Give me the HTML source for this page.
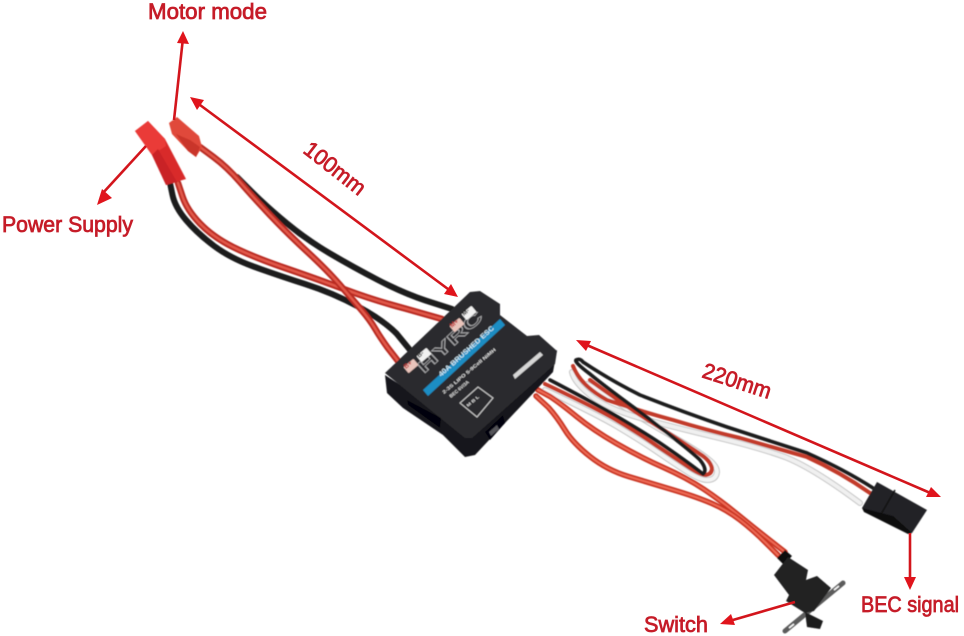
<!DOCTYPE html>
<html><head><meta charset="utf-8"><style>
html,body{margin:0;padding:0;background:#fff;width:964px;height:636px;overflow:hidden}
svg{display:block}
.l{font-family:"Liberation Sans",sans-serif;font-weight:400;fill:#c61c28;font-size:22px;stroke:#c61c28;stroke-width:.75}
.w{fill:none;stroke-linecap:round;stroke-linejoin:round}
.a{stroke:#d3151c;stroke-width:2.6;fill:none}
.h{fill:#e0141c}
.t{font-family:"Liberation Sans",sans-serif;font-weight:700}
</style></head><body>
<svg width="964" height="636" viewBox="0 0 964 636" xmlns="http://www.w3.org/2000/svg">
<defs><filter id="b" x="-5%" y="-5%" width="110%" height="110%"><feGaussianBlur stdDeviation=".5"/></filter></defs>
<g filter="url(#b)">
<!-- power black -->
<path class="w" stroke="#1b1b1d" stroke-width="6" d="M170 183 L172.5 195 Q175 207 186 220 Q197 233 213.5 245.5 Q230 258 253.5 266.5 Q277 275 305 284 Q333 293 358 306.5 Q383 320 396.5 333.5 L410 350"/>
<!-- motor black -->
<path class="w" stroke="#1b1b1d" stroke-width="6" d="M237 177 L252 192 Q267 207 287 223.5 Q307 240 330 253.5 Q353 267 378 280 Q403 293 425.5 300.5 L452 309"/>
<!-- power red -->
<path class="w" stroke="#b92a22" stroke-width="6.5" d="M178 183 L182.5 196.5 Q187 210 200 223.5 Q213 237 233 247 Q253 257 286.5 268.5 Q320 280 346.5 290 Q373 300 405 308.5 L442 319"/>
<path class="w" stroke="#e2594a" stroke-width="2.4" d="M178 183 L182.5 196.5 Q187 210 200 223.5 Q213 237 233 247 Q253 257 286.5 268.5 Q320 280 346.5 290 Q373 300 405 308.5 L442 319"/>
<!-- motor red -->
<path class="w" stroke="#b92a22" stroke-width="6.5" d="M200 147 L213.5 157 Q227 167 240 182 Q253 197 270 215 Q287 233 307 251.5 Q327 270 340 285 Q353 300 361.5 310 Q370 320 375 328.5 Q380 337 387.5 347.5 L398 361"/>
<path class="w" stroke="#e2594a" stroke-width="2.4" d="M200 147 L213.5 157 Q227 167 240 182 Q253 197 270 215 Q287 233 307 251.5 Q327 270 340 285 Q353 300 361.5 310 Q370 320 375 328.5 Q380 337 387.5 347.5 L398 361"/>
<!-- connectors -->
<polygon points="135,131 148,121 165,139 186,179 166,185 152,155" fill="#d92b2b"/>
<polygon points="135,131 148,121 165,139 166,146 152,155" fill="#ea3b38"/>
<polygon points="152,155 158,149 177,182 166,185" fill="#c92226"/>
<polygon points="169,123 177,117 199,136 202,147 196,157 188,151 172,134" fill="#e04a3a"/>
<polygon points="176,134 188,151 196,157 200,147 190,140" fill="#c9342a"/>
<!-- servo lead -->
<path class="w" stroke="#c4c4c4" stroke-width="6" d="M545 390 Q596 414 618 427 Q640 440 657.500 452 Q675 464 687.500 472 Q700 480 707 480 Q716 480 717 472 Q717 466 708 459 Q700 452 670 435 Q640 418 621.500 405 Q603 392 587 384"/>
<path class="w" stroke="#f4f4f4" stroke-width="4" d="M545 390 Q596 414 618 427 Q640 440 657.500 452 Q675 464 687.500 472 Q700 480 707 480 Q716 480 717 472 Q717 466 708 459 Q700 452 670 435 Q640 418 621.500 405 Q603 392 587 384"/>
<path class="w" stroke="#c4c4c4" stroke-width="6" d="M572 372 Q574 382 590 395 Q605 408 640 418 Q673 427 715 437 Q757 447 785 457 Q813 468 860 503"/>
<path class="w" stroke="#f0f0f0" stroke-width="4" d="M572 372 Q574 382 590 395 Q605 408 640 418 Q673 427 715 437 Q757 447 785 457 Q813 468 860 503"/>
<path class="w" stroke="#c23a2a" stroke-width="4" d="M545 384 Q596 408 618 421 Q640 434 657 446 Q675 458 687 466 Q700 475 706 475 Q712 474 712 468 Q710 460 700 454 Q690 447 640 415 Q603 390 590 380"/>
<path class="w" stroke="#c23a2a" stroke-width="4" d="M573 366 Q580 385 607 400 Q640 411 673 420 Q706 430 740 438 Q775 448 807 457 Q840 472 870 493"/>
<path class="w" stroke="#1c1c1e" stroke-width="3.600" d="M550 380 Q596 404 618 417 Q640 430 660 443 Q685 460 703 474 Q708 470 700 460 Q690 450 640 412 Q603 385 590 374 Q574 362 576 360 Q580 358 583 362 Q610 380 640 395 Q683 412 727 427 Q767 440 807 453 Q845 470 873 488"/>
<!-- switch wires -->
<path class="w" stroke="#c93424" stroke-width="5.500" d="M538 390 L550 396.500 Q560 403 576.500 416.500 Q593 430 616.500 443.500 Q640 457 663.500 467.500 Q687 478 703.500 489 Q720 500 736.500 513.500 Q753 527 769 539.500 L785 552"/>
<path class="w" stroke="#ee6a55" stroke-width="2" d="M538 390 L550 396.500 Q560 403 576.500 416.500 Q593 430 616.500 443.500 Q640 457 663.500 467.500 Q687 478 703.500 489 Q720 500 736.500 513.500 Q753 527 769 539.500 L785 552"/>
<path class="w" stroke="#c93424" stroke-width="5.500" d="M536 396 L548.500 407.500 Q557 417 565 430 Q573 443 590 456.500 Q607 470 628.500 476.500 Q650 483 673.500 490 Q697 497 712 503.500 Q727 510 740 520 Q753 530 765.500 542.500 L778 555"/>
<path class="w" stroke="#ee6a55" stroke-width="2" d="M536 396 L548.500 407.500 Q557 417 565 430 Q573 443 590 456.500 Q607 470 628.500 476.500 Q650 483 673.500 490 Q697 497 712 503.500 Q727 510 740 520 Q753 530 765.500 542.500 L778 555"/>
<!-- ESC -->
<polygon points="385,375 387,393 403,408 443,435 465,457 475,455 553,372 557,350 470,430" fill="#19191b"/>
<polygon points="385,373 470,292 480,291 500,304 500,315 527,336 539,335 557,351 555,364 472,438 465,438" fill="#2c2c2f"/>
<polygon points="407,400 441,418 440,428 408,405" fill="#060608"/>
<polygon points="485,432 503,415 505,423 490,440" fill="#060608"/>
<polygon points="489,432 497,425 499,429 491,436" fill="#55555a"/>
<polygon points="423,390 500,319 505,325 428,396" fill="#1f8dc3"/>
<text class="t" transform="translate(441,377) rotate(-42)" font-size="7" fill="#cfe6f2" textLength="72" lengthAdjust="spacingAndGlyphs">40A BRUSHED ESC</text>
<text class="t" transform="translate(424,374) rotate(-43)" font-size="17" fill="none" stroke="#a5a5a7" stroke-width=".8" textLength="82" lengthAdjust="spacingAndGlyphs">HYRC</text>
<text class="t" transform="translate(444,394) rotate(-40)" font-size="4.600" fill="#ddd" textLength="68" lengthAdjust="spacingAndGlyphs">2-3S LIPO 5-9Cell NiMH</text>
<text class="t" transform="translate(451,398) rotate(-40)" font-size="4.600" fill="#ddd" textLength="24" lengthAdjust="spacingAndGlyphs">BEC 6V/3A</text>
<polygon points="460,403 478,387 493,398 477,417" fill="none" stroke="#cfcfcf" stroke-width="1"/>
<text class="t" transform="translate(468,407) rotate(-40)" font-size="4" fill="#ddd" textLength="15" lengthAdjust="spacingAndGlyphs">M B L</text>
<polygon points="513,375 540,352 543,355 515,379" fill="#d6d6d6"/>
<rect x="-6.500" y="-4" width="13" height="8" rx="1" transform="translate(411,366) rotate(-40)" fill="#e9c4bb"/>
<rect x="-6.500" y="-4" width="13" height="8" rx="1" transform="translate(424,355) rotate(-40)" fill="#f1f1f1"/>
<rect x="-6.500" y="-4" width="13" height="8" rx="1" transform="translate(457,325) rotate(-40)" fill="#e9c4bb"/>
<rect x="-6.500" y="-4" width="13" height="8" rx="1" transform="translate(469,313) rotate(-40)" fill="#f1f1f1"/>
<text class="t" transform="translate(406,369) rotate(-40)" font-size="6.500" fill="#b33">B+</text>
<text class="t" transform="translate(419,358) rotate(-40)" font-size="6.500" fill="#222">B-</text>
<text class="t" transform="translate(452,328) rotate(-40)" font-size="6.500" fill="#b33">M+</text>
<text class="t" transform="translate(464,316) rotate(-40)" font-size="6.500" fill="#222">M-</text>
<!-- BEC connector -->
<polygon points="862,508 877,482 927,510 912,533" fill="#232325"/>
<polygon points="862,508 864,512 908,534 912,533 893,516" fill="#111"/>
<line x1="895" y1="490" x2="880" y2="516" stroke="#111" stroke-width="1.500"/>
<!-- switch -->
<polygon points="777,558 785,550 792,556 784,565" fill="#111"/>
<path d="M785 631 L843 583" stroke="#5c5c5c" stroke-width="5" stroke-linecap="round"/>
<path d="M789 628 L794 624 M839 586 L834 590" stroke="#fff" stroke-width="1.500"/>
<polygon points="774,575 788,557 808,570 806,580 817,576 831,588 814,611 805,613 786,601 789,595" fill="#222224"/>
<polygon points="805,612 823,621 820,629 807,627" fill="#1c1c1e"/>
</g>
<!-- arrows -->
<g>
<line class="a" x1="174" y1="120" x2="183" y2="38"/><polygon class="h" points="183,31 189,44 177,43"/>
<line class="a" x1="196" y1="102" x2="452" y2="292"/><polygon class="h" points="190,97 204,100 197,110"/><polygon class="h" points="458,297 444,294 451,284"/>
<line class="a" x1="146" y1="146" x2="102" y2="194"/><polygon class="h" points="97,205 102,189 112,198"/>
<line class="a" x1="582" y1="343" x2="935" y2="495"/><polygon class="h" points="576,340 591,341 586,351"/><polygon class="h" points="941,497 926,497 931,487"/>
<line class="a" x1="910" y1="533" x2="910" y2="582"/><polygon class="h" points="910,590 904,577 916,577"/>
<line class="a" x1="795" y1="602" x2="726" y2="622"/><polygon class="h" points="720,624 731,614 735,625"/>
</g>
<text class="l" x="148" y="19" textLength="119" lengthAdjust="spacingAndGlyphs">Motor mode</text>
<text class="l" x="2" y="232" textLength="131" lengthAdjust="spacingAndGlyphs">Power Supply</text>
<text class="l" transform="translate(302,152) rotate(38)" textLength="72" lengthAdjust="spacingAndGlyphs">100mm</text>
<text class="l" transform="translate(701,377) rotate(18)" textLength="71" lengthAdjust="spacingAndGlyphs">220mm</text>
<text class="l" x="644" y="632" textLength="64" lengthAdjust="spacingAndGlyphs">Switch</text>
<text class="l" x="861" y="612" textLength="98" lengthAdjust="spacingAndGlyphs">BEC signal</text>
</svg>
</body></html>
